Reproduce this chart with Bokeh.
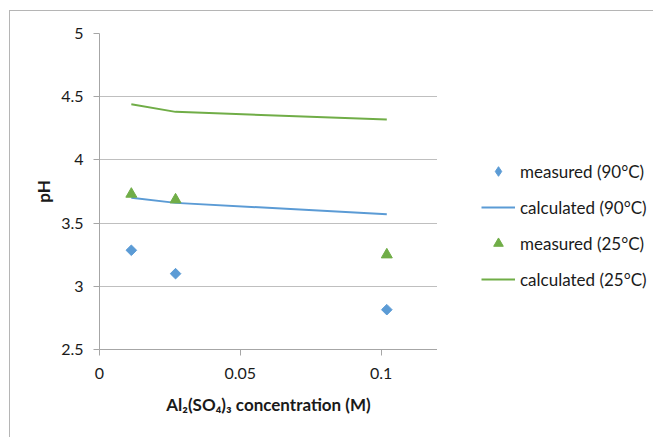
from bokeh.plotting import figure
from bokeh.layouts import row
from bokeh.models import Range1d, FixedTicker, Legend, LegendItem
from bokeh.embed import file_html
from bokeh.resources import INLINE
import math

# data
conc = [0.0113, 0.027, 0.102]
meas_90 = [3.285, 3.10, 2.815]
calc_90 = [3.70, 3.66, 3.57]
meas_25 = [3.73, 3.685, 3.25]
calc_25 = [4.44, 4.38, 4.32]
x_ticks = [0, 0.05, 0.1]
x_tick_labels = ["0", "0.05", "0.1"]
y_ticks = [2.5, 3, 3.5, 4, 4.5, 5]
y_tick_labels = ["2.5", "3", "3.5", "4", "4.5", "5"]
series_names = ["measured (90°C)", "calculated (90°C)", "measured (25°C)", "calculated (25°C)"]

BLUE = "#5B9BD5"
GREEN = "#70AD47"
FONT = "Lato"
TXT = "#1a1a1a"

p = figure(width=427, height=426, output_backend="svg", toolbar_location=None,
           x_range=Range1d(0, 0.12), y_range=Range1d(2.5, 5),
           min_border_left=89, min_border_right=0, min_border_top=22, min_border_bottom=88)
p.outline_line_color = None
p.background_fill_color = "white"

p.xgrid.grid_line_color = None
p.ygrid.grid_line_color = "#bfbfbf"
p.ygrid.grid_line_width = 1

for ax in (p.xaxis[0], p.yaxis[0]):
    ax.axis_line_color = "#a6a6a6"
    ax.major_tick_line_color = "#a6a6a6"
    ax.minor_tick_line_color = None
    ax.major_tick_in = 0
    ax.major_tick_out = 6
    ax.major_label_text_font = FONT
    ax.major_label_text_font_size = "16px"
    ax.major_label_text_color = TXT
    ax.axis_label_text_font = FONT
    ax.axis_label_text_font_style = "bold"
    ax.axis_label_text_font_size = "17px"
    ax.axis_label_text_color = TXT

p.xaxis.ticker = FixedTicker(ticks=x_ticks)
p.xaxis.major_label_overrides = dict(zip(x_ticks, x_tick_labels))
p.xaxis.major_label_standoff = 12
p.xaxis.axis_label = "Al₂(SO₄)₃ concentration (M)"
p.xaxis.axis_label_standoff = 12

p.yaxis.ticker = FixedTicker(ticks=y_ticks)
p.yaxis.major_label_overrides = {t: l for t, l in zip(y_ticks, y_tick_labels)}
p.yaxis.major_label_standoff = 10
p.yaxis.axis_label = "pH"
p.yaxis.axis_label_standoff = 4

DIAMOND = dict(marker="square", angle=math.pi / 4, size=7.5, color=BLUE)
TRIANGLE = dict(marker="triangle", size=11, color=GREEN)

p.scatter(conc, meas_90, **DIAMOND)
p.line(conc, calc_90, line_color=BLUE, line_width=2)
p.scatter(conc, meas_25, **TRIANGLE)
p.line(conc, calc_25, line_color=GREEN, line_width=2)

# legend panel (separate figure so the legend is not clipped)
lg = figure(width=216, height=426, output_backend="svg", toolbar_location=None,
            x_range=Range1d(0, 1), y_range=Range1d(0, 1),
            min_border=0, x_axis_type=None, y_axis_type=None)
lg.outline_line_color = None
lg.xgrid.visible = False
lg.ygrid.visible = False
off = [-10]
l1 = lg.scatter(off, off, marker="diamond", size=11, color=BLUE)
l2 = lg.line(off, off, line_color=BLUE, line_width=2)
l3 = lg.scatter(off, off, **TRIANGLE)
l4 = lg.line(off, off, line_color=GREEN, line_width=2)

legend = Legend(items=[LegendItem(label=n, renderers=[r]) for n, r in zip(series_names, [l1, l2, l3, l4])],
                location=(44, 58), padding=0, margin=0, spacing=12,
                glyph_width=34, glyph_height=24, label_height=24, label_standoff=5,
                label_text_font=FONT, label_text_font_size="17px", label_text_color=TXT,
                border_line_color=None, background_fill_alpha=0)
lg.add_layout(legend)

layout = row(p, lg, spacing=0)
layout.styles = {"margin-left": "9px", "margin-top": "10px",
                 "border-left": "1px solid #b5b5b5", "border-top": "1px solid #b5b5b5"}

open("out.html", "w").write(file_html(layout, INLINE))
